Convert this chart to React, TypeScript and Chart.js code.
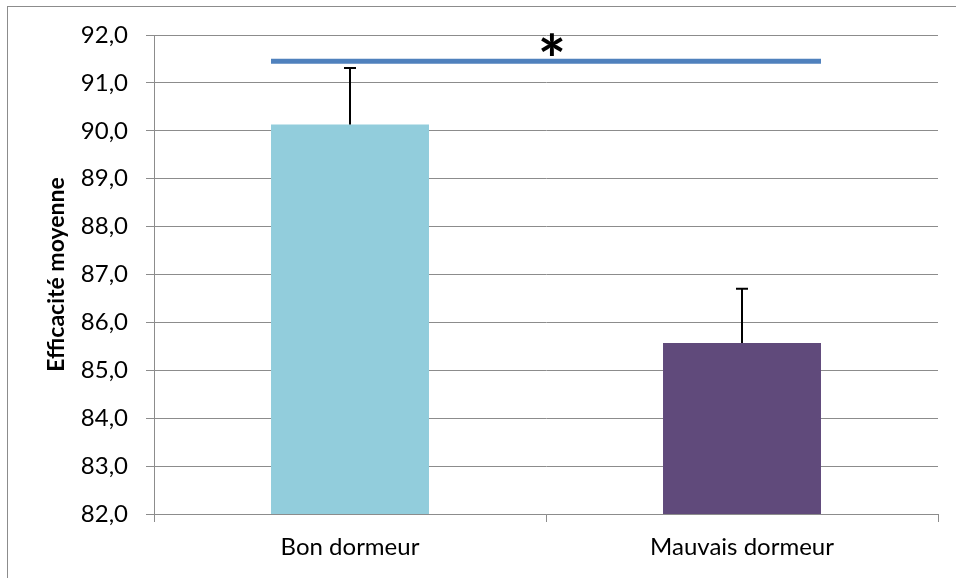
import React, { useEffect, useRef } from "react";
import { Chart, registerables } from "chart.js";

Chart.register(...registerables);

// ---- data ----
const categories = ["Bon dormeur", "Mauvais dormeur"];
const meanValues = [90.13, 85.57];
const errorTops = [91.31, 86.7];
const barColors = ["#92CDDC", "#604A7B"];
const yTicksMin = 82;
const yTicksMax = 92;
const yStep = 1;
const significanceLevel = 91.45;
const starLevel = 91.81;
const starLabel = "*";
const yTitle = "Efficacité moyenne";

const GRID = "#8c8c8c";
const FONT = "Lato, 'Open Sans', sans-serif";

export default function App() {
  const ref = useRef<HTMLCanvasElement | null>(null);

  useEffect(() => {
    if (!ref.current) return;

    const framePlugin = {
      id: "frame",
      beforeDraw(chart: any) {
        const ctx = chart.ctx;
        ctx.save();
        ctx.fillStyle = "#ffffff";
        ctx.fillRect(0, 0, chart.width, chart.height);
        ctx.strokeStyle = GRID;
        ctx.lineWidth = 1;
        ctx.strokeRect(7.5, 6.5, chart.width + 50, chart.height + 50);
        ctx.restore();
      },
    };

    const annotPlugin = {
      id: "annot",
      afterDatasetsDraw(chart: any) {
        const ctx = chart.ctx;
        const y = chart.scales.y;
        const meta = chart.getDatasetMeta(0);
        ctx.save();
        // error bars
        ctx.strokeStyle = "#000000";
        ctx.lineWidth = 2;
        meta.data.forEach((bar: any, i: number) => {
          const top = y.getPixelForValue(errorTops[i]);
          const base = y.getPixelForValue(meanValues[i]);
          const x = Math.round(bar.x);
          ctx.beginPath();
          ctx.moveTo(x, base);
          ctx.lineTo(x, top);
          ctx.moveTo(x - 6, top);
          ctx.lineTo(x + 6, top);
          ctx.stroke();
        });
        // significance line
        const b0 = meta.data[0];
        const b1 = meta.data[meta.data.length - 1];
        const x1 = b0.x - b0.width / 2;
        const x2 = b1.x + b1.width / 2;
        const sy = y.getPixelForValue(significanceLevel);
        ctx.strokeStyle = "#4F81BD";
        ctx.lineWidth = 5;
        ctx.beginPath();
        ctx.moveTo(x1, sy);
        ctx.lineTo(x2, sy);
        ctx.stroke();
        // star
        const cx = (x1 + x2) / 2 + 6;
        const cy = y.getPixelForValue(starLevel);
        ctx.fillStyle = "#000000";
        ctx.font = `bold 100px ${FONT}`;
        const m0 = ctx.measureText(starLabel);
        const w0 = m0.actualBoundingBoxLeft + m0.actualBoundingBoxRight;
        const size = (22 / w0) * 100;
        ctx.font = `bold ${size}px ${FONT}`;
        const m = ctx.measureText(starLabel);
        ctx.textAlign = "center";
        ctx.textBaseline = "alphabetic";
        ctx.fillText(
          starLabel,
          cx,
          cy + (m.actualBoundingBoxAscent - m.actualBoundingBoxDescent) / 2
        );
        ctx.restore();
      },
    };

    const chart = new Chart(ref.current, {
      type: "bar",
      data: {
        labels: categories,
        datasets: [
          {
            data: meanValues,
            backgroundColor: barColors,
            borderWidth: 0,
            categoryPercentage: 1,
            barPercentage: 0.403,
          },
        ],
      },
      options: {
        responsive: false,
        animation: false,
        layout: { padding: { left: 0, top: 35, right: 18, bottom: 0 } },
        plugins: {
          legend: { display: false },
          tooltip: { enabled: false },
          title: { display: false },
        },
        scales: {
          x: {
            offset: true,
            grid: {
              offset: true,
              drawOnChartArea: false,
              drawTicks: true,
              tickLength: 8,
              color: GRID,
            },
            border: { display: true, color: GRID },
            ticks: {
              color: "#000000",
              padding: 11,
              font: { family: FONT, size: 24 },
            },
            afterFit(scale: any) {
              scale.height = 64;
            },
          },
          y: {
            min: yTicksMin,
            max: yTicksMax,
            grid: { color: GRID, tickLength: 8, drawTicks: true },
            border: { display: true, color: GRID },
            ticks: {
              stepSize: yStep,
              color: "#000000",
              padding: 18,
              font: { family: FONT, size: 24 },
              callback: (v: any) => Number(v).toFixed(1).replace(".", ","),
            },
            title: {
              display: true,
              text: yTitle,
              color: "#000000",
              font: { family: FONT, size: 23, weight: "bold", lineHeight: 1 },
              padding: { top: 45, bottom: 0 },
            },
            afterFit(scale: any) {
              scale.width = 154;
            },
          },
        },
      },
      plugins: [framePlugin, annotPlugin],
    });
    return () => chart.destroy();
  }, []);

  return (
    <div style={{ position: "fixed", left: 0, top: 0, width: 956, height: 578, background: "#fff" }}>
      <canvas ref={ref} width={956} height={578} style={{ display: "block" }} />
    </div>
  );
}
